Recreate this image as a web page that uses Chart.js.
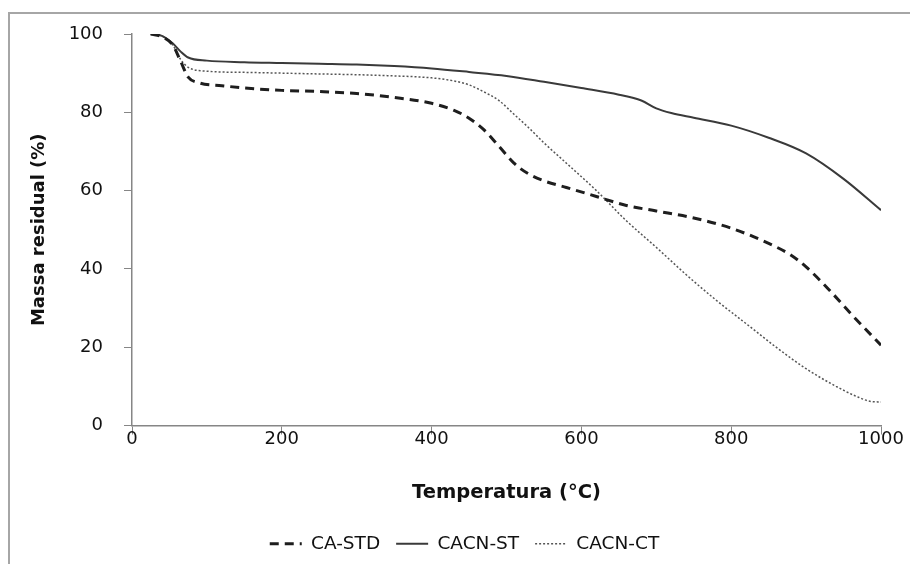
<!DOCTYPE html>
<html>
<head>
<meta charset="utf-8">
<script src="https://cdn.jsdelivr.net/npm/chart.js@4"></script>
<style>
  html, body { margin: 0; padding: 0; background: #fff; overflow: hidden; }
  #wrap { position: relative; width: 910px; height: 564px; overflow: hidden; }
  #frame { position: absolute; left: 8px; top: 12px; width: 1000px; height: 1000px; border: 2px solid #a6a6a6; box-sizing: border-box; }
  canvas { position: absolute; left: 0; top: 0; }
</style>
</head>
<body>
<div id="wrap">
  <div id="frame"></div>
  <canvas id="c" width="910" height="564"></canvas>
</div>
<script>
// Temperature (°C) / residual mass (%)
const seriesNames = ['CA-STD', 'CACN-ST', 'CACN-CT'];

const tempStd = [25, 40, 55, 65, 75, 90, 120, 150, 200, 250, 300, 350, 400, 430, 450, 470, 490, 510, 530, 550, 580, 620, 660, 700, 750, 800, 850, 880, 900, 930, 960, 1000];
const massStd = [100, 99.3, 97, 93, 89, 87.5, 86.8, 86.2, 85.6, 85.3, 84.8, 83.8, 82.3, 80.5, 78.5, 75.5, 71.3, 67, 64.2, 62.5, 60.8, 58.5, 56.2, 54.8, 53, 50.4, 46.5, 43.5, 40.5, 34.8, 28.5, 20.5];

const tempSt = [25, 40, 55, 65, 75, 100, 150, 200, 250, 300, 350, 400, 450, 500, 550, 600, 650, 680, 700, 720, 750, 800, 850, 900, 950, 1000];
const massSt = [100, 99.5, 97.5, 95.5, 94, 93.2, 92.8, 92.6, 92.4, 92.2, 91.8, 91.2, 90.3, 89.3, 87.8, 86.2, 84.5, 83, 81, 79.8, 78.6, 76.6, 73.5, 69.5, 63, 55];

const tempCt = [25, 40, 55, 65, 75, 100, 150, 200, 250, 300, 350, 400, 430, 450, 470, 490, 510, 530, 550, 580, 620, 660, 700, 740, 780, 820, 860, 900, 940, 970, 985, 1000];
const massCt = [100, 99.5, 97, 93.5, 91.5, 90.5, 90.2, 90, 89.8, 89.6, 89.3, 88.8, 88, 87, 85.2, 83, 79.5, 76, 72.2, 67, 60, 52.3, 45.5, 38.5, 32, 26, 20, 14.5, 10, 7.2, 6.2, 6];

const xTicks = [0, 200, 400, 600, 800, 1000];
const yTicks = [0, 20, 40, 60, 80, 100];
const xTitle = 'Temperatura (°C)';
const yTitle = 'Massa residual (%)';

function pts(xs, ys) { return xs.map((x, i) => ({ x: x, y: ys[i] })); }

const FONT = "'DejaVu Sans', sans-serif";
const AXIS = '#868686';

// shifts the bottom legend to the right, like in the reference
const legendShift = {
  id: 'legendShift',
  afterLayout(chart) {
    if (chart.legend) { chart.legend.left += 24; chart.legend.right += 24; }
  }
};

new Chart(document.getElementById('c'), {
  type: 'line',
  data: {
    datasets: [
      { label: seriesNames[0], data: pts(tempStd, massStd), borderColor: '#1e1e1e', borderWidth: 3, borderDash: [9, 6], pointRadius: 0, cubicInterpolationMode: 'monotone', fill: false },
      { label: seriesNames[1], data: pts(tempSt, massSt), borderColor: '#3a3a3a', borderWidth: 2, borderDash: [], pointRadius: 0, cubicInterpolationMode: 'monotone', fill: false },
      { label: seriesNames[2], data: pts(tempCt, massCt), borderColor: '#555555', borderWidth: 1.5, borderDash: [2, 2], pointRadius: 0, cubicInterpolationMode: 'monotone', fill: false }
    ]
  },
  plugins: [legendShift],
  options: {
    responsive: false,
    animation: false,
    layout: { padding: { left: 0, top: 34, right: 29, bottom: 1 } },
    plugins: {
      tooltip: { enabled: false },
      legend: {
        position: 'bottom',
        labels: {
          usePointStyle: true,
          pointStyleWidth: 32,
          padding: 16,
          color: '#111',
          font: { family: FONT, size: 18.5 },
          generateLabels(chart) {
            return chart.data.datasets.map((ds, i) => ({
              text: ds.label,
              fillStyle: ds.borderColor,
              strokeStyle: ds.borderColor,
              lineWidth: ds.borderWidth,
              lineDash: ds.borderDash,
              pointStyle: 'line',
              hidden: false,
              datasetIndex: i,
              fontColor: '#111'
            }));
          }
        }
      }
    },
    scales: {
      x: {
        type: 'linear',
        min: 0, max: 1000,
        afterBuildTicks(scale) { scale.ticks = xTicks.map(v => ({ value: v })); },
        afterFit(scale) { scale.height = 93; },
        grid: { display: true, drawOnChartArea: false, drawTicks: true, tickLength: 9, color: AXIS, lineWidth: 1 },
        border: { display: true, color: AXIS, width: 1.5 },
        ticks: { color: '#111', padding: -6, font: { family: FONT, size: 18 }, maxRotation: 0, callback: v => String(v) },
        title: { display: true, text: xTitle, color: '#111', font: { family: FONT, size: 19.5, weight: 'bold' }, padding: { top: 0, bottom: 14 } }
      },
      y: {
        type: 'linear',
        min: 0, max: 100,
        afterBuildTicks(scale) { scale.ticks = yTicks.map(v => ({ value: v })); },
        afterFit(scale) { scale.width = 132; },
        grid: { display: true, drawOnChartArea: false, drawTicks: true, tickLength: 8, color: AXIS, lineWidth: 1 },
        border: { display: true, color: AXIS, width: 1.5 },
        ticks: { color: '#111', padding: 21, font: { family: FONT, size: 18 }, callback: v => String(v) },
        title: { display: true, text: yTitle, color: '#111', font: { family: FONT, size: 18, weight: 'bold' }, padding: { top: 29, bottom: 0 } }
      }
    }
  }
});
</script>
</body>
</html>
